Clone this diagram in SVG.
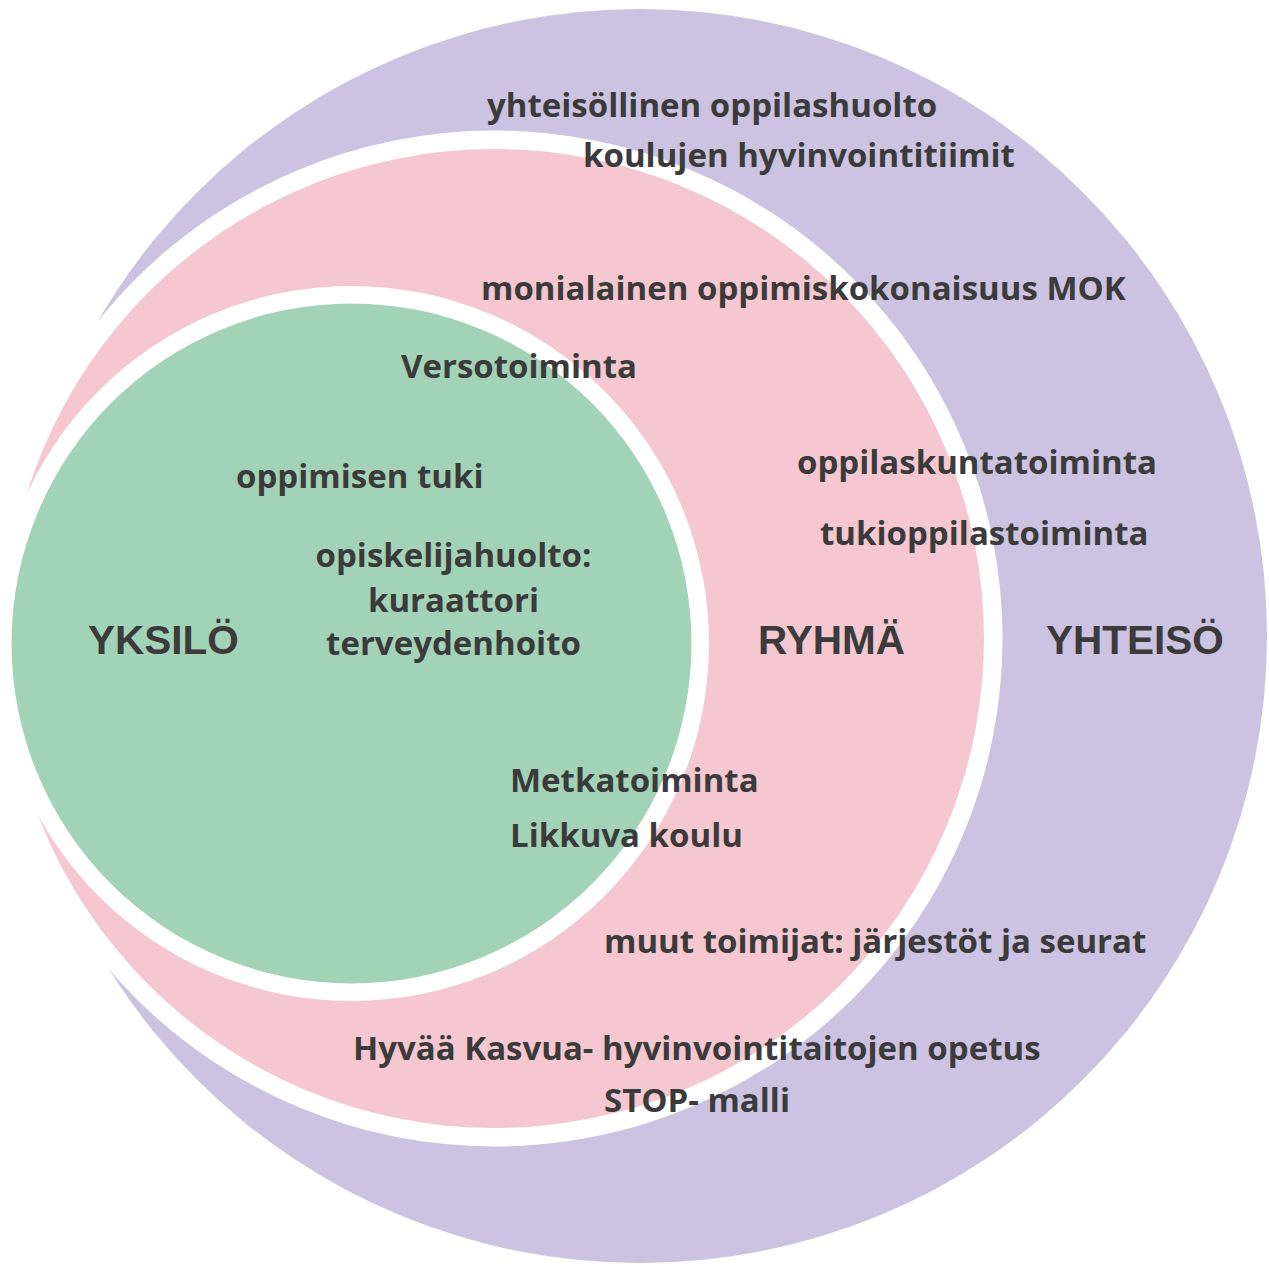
<svg xmlns="http://www.w3.org/2000/svg" width="1269" height="1266" viewBox="0 0 1269 1266">
<style>
.t{font-family:"Open Sans","Noto Sans",sans-serif;font-weight:bold;font-size:33px;fill:#3b3b3b}
.h{font-family:"Liberation Sans",Arial,sans-serif;font-weight:bold;font-size:40.5px;fill:#3b3b3b}
.gap{fill:#ffffff}
</style>
<rect width="1269" height="1266" fill="#ffffff"/>
<g id="yhteiso">
<circle cx="640" cy="636" r="627" fill="#cbc3e1"/>
</g>
<g id="ryhma">
<circle class="gap" cx="494.5" cy="638.5" r="508"/>
<circle cx="494.5" cy="638.5" r="489.5" fill="#f5c7d0"/>
</g>
<g id="yksilo">
<circle class="gap" cx="351.5" cy="643.5" r="357.5"/>
<circle cx="351.5" cy="643.5" r="340" fill="#a3d3b6"/>
</g>
<g id="labels">
<text class="t" x="487" y="117">yhteisöllinen oppilashuolto</text>
<text class="t" x="583" y="167">koulujen hyvinvointitiimit</text>
<text class="t" x="481" y="300">monialainen oppimiskokonaisuus MOK</text>
<text class="t" x="401" y="378">Versotoiminta</text>
<text class="t" x="797" y="474">oppilaskuntatoiminta</text>
<text class="t" x="236" y="488">oppimisen tuki</text>
<text class="t" x="820" y="545">tukioppilastoiminta</text>
<text class="t" x="453.5" y="567" text-anchor="middle">opiskelijahuolto:</text>
<text class="t" x="453.5" y="612" text-anchor="middle">kuraattori</text>
<text class="t" x="453.5" y="655" text-anchor="middle">terveydenhoito</text>
<text class="h" x="88" y="654">YKSILÖ</text>
<text class="h" x="758" y="654">RYHMÄ</text>
<text class="h" x="1046" y="654">YHTEISÖ</text>
<text class="t" x="510" y="792">Metkatoiminta</text>
<text class="t" x="510" y="847">Likkuva koulu</text>
<text class="t" x="604" y="953">muut toimijat: järjestöt ja seurat</text>
<text class="t" x="353" y="1060">Hyvää Kasvua- hyvinvointitaitojen opetus</text>
<text class="t" x="604" y="1112">STOP- malli</text>
</g>
</svg>
